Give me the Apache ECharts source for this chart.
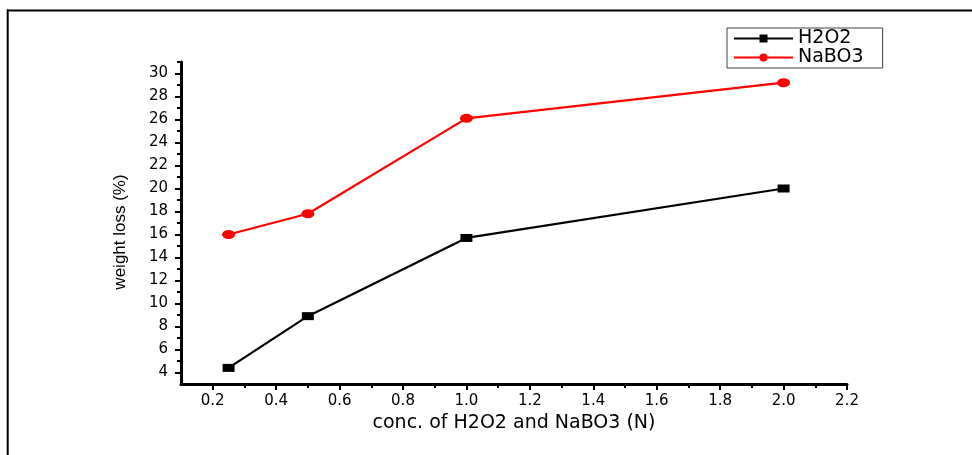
<!DOCTYPE html>
<html>
<head>
<meta charset="utf-8">
<script src="https://cdn.jsdelivr.net/npm/echarts@6/dist/echarts.min.js"></script>
<style>html,body{margin:0;padding:0;background:#fff}#c{width:972px;height:455px}</style>
</head>
<body>
<div id="c"></div>
<script>
// ---- data ----
var concentrations = [0.25, 0.5, 1.0, 2.0];
var h2o2Values = [4.4, 8.9, 15.7, 20.0];
var nabo3Values = [16.0, 17.8, 26.1, 29.2];
var seriesNames = ['H2O2', 'NaBO3'];
var xMajorTicks = [0.2, 0.4, 0.6, 0.8, 1.0, 1.2, 1.4, 1.6, 1.8, 2.0, 2.2];
var xMinorTicks = [0.3, 0.5, 0.7, 0.9, 1.1, 1.3, 1.5, 1.7, 1.9, 2.1];
var yMajorTicks = [4, 6, 8, 10, 12, 14, 16, 18, 20, 22, 24, 26, 28, 30];
var yMinorTicks = [5, 7, 9, 11, 13, 15, 17, 19, 21, 23, 25, 27, 29, 31];
var xTitle = 'conc. of H2O2 and NaBO3 (N)';
var yTitle = 'weight loss (%)';

function pairs(xs, ys) { return xs.map(function (x, i) { return [x, ys[i]]; }); }

var chart = echarts.init(document.getElementById('c'), null, { renderer: 'canvas' });
var lbl = { color: '#000', fontFamily: 'DejaVu Sans', fontSize: 15 };
var grid = { left: 181, right: 125, top: 62, bottom: 71 };

chart.setOption({
  backgroundColor: '#fff',
  animation: false,
  graphic: [
    { type: 'line', shape: { x1: 7, y1: 10.5, x2: 972, y2: 10.5 }, style: { stroke: '#000', lineWidth: 2 } },
    { type: 'line', shape: { x1: 7.7, y1: 9.5, x2: 7.7, y2: 455 }, style: { stroke: '#000', lineWidth: 2 } }
  ],
  legend: {
    orient: 'vertical',
    left: 727, top: 28,
    padding: [1, 19, 1, 6],
    itemGap: 0,
    itemWidth: 59, itemHeight: 10,
    borderColor: '#444', borderWidth: 1,
    textStyle: { color: '#000', fontFamily: 'DejaVu Sans', fontSize: 19, lineHeight: 19 },
    data: seriesNames
  },
  grid: grid,
  xAxis: [
    {
      type: 'value', min: 0.1, max: 2.2,
      name: xTitle, nameLocation: 'middle', nameGap: 29,
      nameTextStyle: { color: '#000', fontFamily: 'DejaVu Sans', fontSize: 19 },
      axisLine: { show: true, onZero: false, lineStyle: { color: '#000', width: 3 } },
      axisTick: { show: true, length: 6, lineStyle: { color: '#000', width: 2 }, customValues: xMajorTicks },
      axisLabel: Object.assign({ margin: 10, customValues: xMajorTicks, formatter: function (v) { return v.toFixed(1); } }, lbl),
      splitLine: { show: false }
    },
    {
      type: 'value', min: 0.1, max: 2.2, position: 'bottom',
      axisLine: { show: false },
      axisTick: { show: true, length: 4, lineStyle: { color: '#000', width: 2 }, customValues: xMinorTicks },
      axisLabel: { show: false },
      splitLine: { show: false }
    }
  ],
  yAxis: [
    {
      type: 'value', min: 3, max: 31,
      name: yTitle, nameLocation: 'middle', nameGap: 52, nameRotate: 90,
      nameTextStyle: { color: '#000', fontFamily: 'Liberation Sans', fontSize: 17, padding: [0, 18, 0, 0] },
      axisLine: { show: true, onZero: false, lineStyle: { color: '#000', width: 3 } },
      axisTick: { show: true, length: 6, lineStyle: { color: '#000', width: 2 }, customValues: yMajorTicks },
      axisLabel: Object.assign({ margin: 13, customValues: yMajorTicks }, lbl),
      splitLine: { show: false }
    },
    {
      type: 'value', min: 3, max: 31, position: 'left',
      axisLine: { show: false },
      axisTick: { show: true, length: 4, lineStyle: { color: '#000', width: 2 }, customValues: yMinorTicks },
      axisLabel: { show: false },
      splitLine: { show: false }
    }
  ],
  series: [
    {
      name: seriesNames[0], type: 'line', xAxisIndex: 0, yAxisIndex: 0,
      data: pairs(concentrations, h2o2Values),
      symbol: 'rect', symbolSize: [12, 8],
      lineStyle: { color: '#000', width: 2.2 },
      itemStyle: { color: '#000' }
    },
    {
      name: seriesNames[1], type: 'line', xAxisIndex: 0, yAxisIndex: 0,
      data: pairs(concentrations, nabo3Values),
      symbol: 'circle', symbolSize: [13, 9],
      lineStyle: { color: '#ff0000', width: 2.2 },
      itemStyle: { color: '#ff0000' }
    }
  ]
});
</script>
</body>
</html>
